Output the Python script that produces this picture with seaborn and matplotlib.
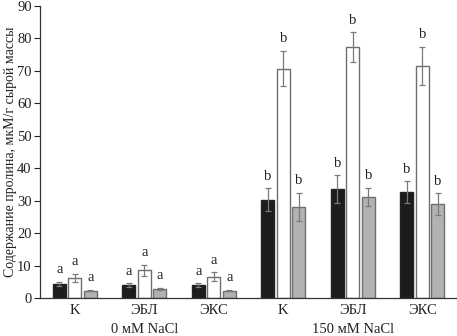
import numpy as np
import pandas as pd
import matplotlib
matplotlib.use("Agg")
import matplotlib.pyplot as plt
import seaborn as sns

groups = ["K", "ЭБЛ", "ЭКС", "K ", "ЭБЛ ", "ЭКС "]
tick_labels = ["K", "ЭБЛ", "ЭКС", "K", "ЭБЛ", "ЭКС"]
series = ["s1", "s2", "s3"]
black_vals = [4.4, 4.0, 4.0, 30.3, 33.6, 32.7]
white_vals = [6.2, 8.6, 6.6, 70.7, 77.3, 71.6]
gray_vals = [2.3, 2.8, 2.3, 28.1, 31.1, 29.0]
black_err = [0.6, 0.5, 0.5, 3.5, 4.2, 3.3]
white_err = [1.2, 1.7, 1.3, 5.5, 4.6, 5.8]
gray_err = [0.2, 0.3, 0.2, 4.3, 2.8, 3.3]
letters = ["a", "a", "a", "b", "b", "b"]
group_labels = ["0 мМ NaCl", "150 мМ NaCl"]

vals = [black_vals, white_vals, gray_vals]
errs = [black_err, white_err, gray_err]
df = pd.DataFrame({
    "group": groups * 3,
    "series": np.repeat(series, len(groups)),
    "value": black_vals + white_vals + gray_vals,
})

sns.set_style("white")
plt.rcParams["font.family"] = ["Liberation Serif", "DejaVu Serif"]

fig = plt.figure(figsize=(4.57, 3.36), dpi=100)
ax = fig.add_axes([40 / 457, 1 - 298 / 336, 1 - 40 / 457, (298 - 6) / 336])

palette = {"s1": "#1c1c1c", "s2": "#ffffff", "s3": "#b2b2b2"}
sns.barplot(data=df, x="group", y="value", hue="series", order=groups,
            hue_order=series, palette=palette, width=0.67, gap=0.14,
            errorbar=None, legend=False, ax=ax, saturation=1,
            edgecolor="#555555", linewidth=1.0)

edgecols = ["#222222", "#6e6e6e", "#6e6e6e"]
bar_containers = list(ax.containers)
for si, container in enumerate(bar_containers):
    for gi, bar in enumerate(container):
        bar.set_edgecolor(edgecols[si])
        cx = bar.get_x() + bar.get_width() / 2
        v = vals[si][gi]
        e = errs[si][gi]
        ax.errorbar(cx, v, yerr=e, color="#7a7a7a", capsize=2.2,
                    elinewidth=0.9, capthick=0.9, zorder=5)
        ax.text(cx, v + e + 1.7, letters[gi], ha="center", va="bottom",
                fontsize=10.5, color="#222222")

ax.set_xlim(-0.5, 5.5)
ax.set_ylim(0, 90)
ax.set_yticks(range(0, 91, 10))
ax.set_xticks(range(6))
ax.set_xticklabels(tick_labels, fontsize=10.5)
ax.tick_params(axis="y", labelsize=10.5, length=4, width=0.8, direction="out",
               left=True, pad=2, colors="#222222")
ax.tick_params(axis="x", length=0, pad=4, colors="#222222")
ax.set_xlabel("")
ax.set_ylabel("Содержание пролина, мкМ/г сырой массы", fontsize=10,
              color="#222222")
ax.yaxis.set_label_coords(-0.056, 0.5)
for s in ["top", "right"]:
    ax.spines[s].set_visible(False)
for s in ["left", "bottom"]:
    ax.spines[s].set_color("#333333")
    ax.spines[s].set_linewidth(0.9)

for i, lab in enumerate(group_labels):
    ax.text(1 + 3 * i, -0.086, lab, transform=ax.get_xaxis_transform(),
            ha="center", va="top", fontsize=10.5, color="#222222")

fig.savefig("out.png", dpi=100)
